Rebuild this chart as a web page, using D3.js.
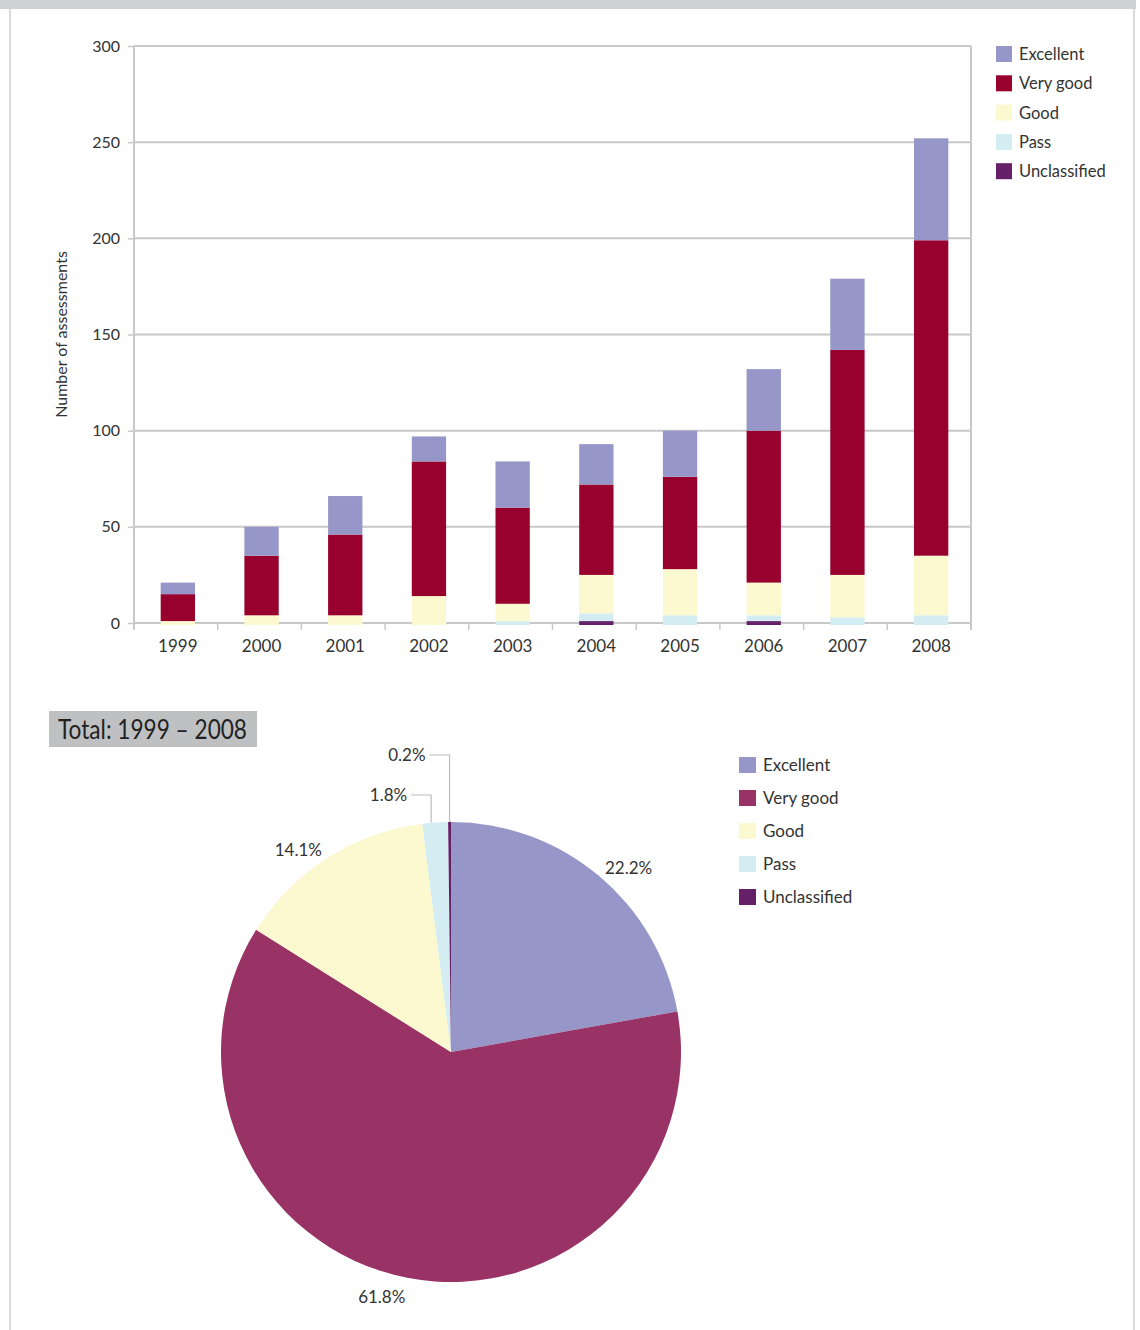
<!DOCTYPE html>
<html>
<head>
<meta charset="utf-8">
<script src="https://cdn.jsdelivr.net/npm/d3@7"></script>
<style>
  html, body { margin: 0; padding: 0; background: #fff; }
  svg { display: block; }
  text { font-family: Lato, "Open Sans", sans-serif; fill: #333; }
</style>
</head>
<body>
<svg id="chart" width="1140" height="1330"></svg>
<script>
// Assessment ratings per year
const years = ["1999", "2000", "2001", "2002", "2003", "2004", "2005", "2006", "2007", "2008"];
const ratings = ["Unclassified", "Pass", "Good", "Very good", "Excellent"];
const unclassified = [0, 0, 0, 0, 0, 1, 0, 1, 0, 0];
const pass         = [0, 0, 0, 0, 1, 4, 4, 3, 3, 4];
const good         = [1, 4, 4, 14, 9, 20, 24, 17, 22, 31];
const veryGood     = [14, 31, 42, 70, 50, 47, 48, 79, 117, 164];
const excellent    = [6, 15, 20, 13, 24, 21, 24, 32, 37, 53];
const yTicks = [0, 50, 100, 150, 200, 250, 300];

// Share of all assessments 1999 – 2008 (percent)
const totalLabels = ["Excellent", "Very good", "Good", "Pass", "Unclassified"];
const totalShares = [22.2, 61.8, 14.1, 1.8, 0.2];

const barColors = {
  "Excellent": "#9696c8",
  "Very good": "#98002e",
  "Good": "#fcf8cf",
  "Pass": "#d3edf3",
  "Unclassified": "#652068"
};
const pieColors = {
  "Excellent": "#9696c8",
  "Very good": "#993366",
  "Good": "#fcf8cf",
  "Pass": "#d3edf3",
  "Unclassified": "#652068"
};
const gridColor = "#c8c8c8";

const svg = d3.select("#chart");

// Page frame: grey band on top, thin side rules
svg.append("rect").attr("x", 0).attr("y", 0).attr("width", 1136).attr("height", 9).attr("fill", "#d0d1d3");
svg.append("line").attr("x1", 10).attr("x2", 10).attr("y1", 9).attr("y2", 1330).attr("stroke", "#cfcfcf").attr("stroke-width", 1.5);
svg.append("line").attr("x1", 1134).attr("x2", 1134).attr("y1", 9).attr("y2", 1330).attr("stroke", "#cfcfcf").attr("stroke-width", 1.5);

// ---------- Stacked bar chart ----------
const plot = { left: 134, right: 971, top: 46, bottom: 623 };

const rows = years.map((yr, i) => ({
  year: yr,
  "Unclassified": unclassified[i],
  "Pass": pass[i],
  "Good": good[i],
  "Very good": veryGood[i],
  "Excellent": excellent[i]
}));

const x = d3.scaleBand().domain(years).range([plot.left, plot.right]).paddingInner(0.59).paddingOuter(0.295);
const y = d3.scaleLinear().domain([0, 300]).range([plot.bottom, plot.top]);

const gBar = svg.append("g");

// horizontal grid
gBar.append("g").selectAll("line").data(yTicks.filter(t => t > 0)).join("line")
  .attr("x1", plot.left).attr("x2", plot.right)
  .attr("y1", d => y(d)).attr("y2", d => y(d))
  .attr("stroke", gridColor).attr("stroke-width", 2);

// y axis
const yAxis = gBar.append("g").attr("transform", `translate(${plot.left},0)`)
  .call(d3.axisLeft(y).tickValues(yTicks).tickSize(6).tickPadding(8));
yAxis.select(".domain").remove();
yAxis.selectAll(".tick line").attr("stroke", gridColor).attr("stroke-width", 1.5);
yAxis.selectAll(".tick text").attr("font-size", 16).style("fill", "#333").style("font-family", "Lato, sans-serif");
gBar.append("line").attr("x1", plot.left).attr("x2", plot.left).attr("y1", plot.top).attr("y2", plot.bottom + 7)
  .attr("stroke", gridColor).attr("stroke-width", 2);
gBar.append("line").attr("x1", plot.right).attr("x2", plot.right).attr("y1", plot.top).attr("y2", plot.bottom + 7)
  .attr("stroke", gridColor).attr("stroke-width", 2);

// x axis baseline and category dividers
gBar.append("line").attr("x1", plot.left).attr("x2", plot.right).attr("y1", y(0)).attr("y2", y(0))
  .attr("stroke", gridColor).attr("stroke-width", 2);
const step = x.step();
gBar.append("g").selectAll("line").data(d3.range(years.length + 1)).join("line")
  .attr("x1", i => plot.left + i * step).attr("x2", i => plot.left + i * step)
  .attr("y1", y(0)).attr("y2", y(0) + 7)
  .attr("stroke", gridColor).attr("stroke-width", 1.5);
gBar.append("g").selectAll("text").data(years).join("text")
  .attr("x", d => x(d) + x.bandwidth() / 2 + 2).attr("y", y(0) + 29)
  .attr("text-anchor", "middle").attr("font-size", 17).text(d => d);

// y axis title
gBar.append("text")
  .attr("transform", `translate(67,${(plot.top + plot.bottom) / 2}) rotate(-90)`)
  .attr("text-anchor", "middle").attr("font-size", 16).text("Number of assessments");

// stacked bars
const stacked = d3.stack().keys(ratings)(rows);
gBar.append("g").selectAll("g").data(stacked).join("g")
  .attr("fill", s => barColors[s.key])
  .selectAll("rect").data(s => s.filter(d => d[1] > d[0])).join("rect")
  .attr("x", d => x(d.data.year) + 2)
  .attr("width", x.bandwidth())
  .attr("y", d => y(d[1]))
  .attr("height", d => y(d[0]) - y(d[1]) + (d[0] === 0 ? 2 : 0));

// bar legend
const barLegend = svg.append("g").attr("transform", "translate(996,54)");
const legendOrder = ["Excellent", "Very good", "Good", "Pass", "Unclassified"];
const bl = barLegend.selectAll("g").data(legendOrder).join("g")
  .attr("transform", (d, i) => `translate(0,${i * 29.3})`);
bl.append("rect").attr("x", 0).attr("y", -8).attr("width", 16).attr("height", 16).attr("fill", d => barColors[d]);
bl.append("text").attr("x", 23).attr("y", 6).attr("font-size", 16.5).text(d => d);

// ---------- Pie of totals ----------
svg.append("rect").attr("x", 49).attr("y", 711).attr("width", 208).attr("height", 36).attr("fill", "#bfc0c2");
svg.append("text").attr("x", 58).attr("y", 739).attr("font-size", 26)
  .attr("textLength", 189).attr("lengthAdjust", "spacingAndGlyphs")
  .style("fill", "#222").text("Total: 1999 – 2008");

const cx = 451, cy = 1052, r = 230;
const pieData = totalLabels.map((k, i) => ({ key: k, value: totalShares[i] }));
const arcs = d3.pie().sort(null).value(d => d.value)(pieData);
const arc = d3.arc().innerRadius(0).outerRadius(r);
const gPie = svg.append("g").attr("transform", `translate(${cx},${cy})`);
gPie.selectAll("path").data(arcs).join("path")
  .attr("d", arc).attr("fill", d => pieColors[d.data.key]);

const fmt = v => v.toFixed(1) + "%";
const mid = d => (d.startAngle + d.endAngle) / 2;

// labels for the larger slices sit just outside the rim
const bigLabels = arcs.filter(d => d.data.value >= 5);
gPie.selectAll("text.big").data(bigLabels).join("text")
  .attr("class", "big")
  .attr("x", d => (r + 10) * Math.sin(mid(d)))
  .attr("y", d => {
    const a = mid(d);
    return -(r + 10) * Math.cos(a) + Math.max(0, -Math.cos(a)) * 10 + 6;
  })
  .attr("text-anchor", d => {
    const s = Math.sin(mid(d));
    return s > 0.1 ? "start" : (s < -0.1 ? "end" : "middle");
  })
  .attr("font-size", 17).text(d => fmt(d.data.value));

// the thin slices at the top get leader lines
const smallLabels = arcs.filter(d => d.data.value < 5);
const leaderRise = [27, 67];
smallLabels.forEach((d, i) => {
  const a = mid(d);
  const px = r * Math.sin(a) - 4 + i * 4;
  const py = -r * Math.cos(a);
  const ly = -r - leaderRise[i];
  const lx = px - 20;
  gPie.append("path")
    .attr("d", `M${px},${py}V${ly}H${lx}`)
    .attr("fill", "none").attr("stroke", "#bdbdbd").attr("stroke-width", 1.2);
  gPie.append("text").attr("x", lx - 4).attr("y", ly + 6)
    .attr("text-anchor", "end").attr("font-size", 17).text(fmt(d.data.value));
});

// pie legend
const pieLegend = svg.append("g").attr("transform", "translate(739,765)");
const pl = pieLegend.selectAll("g").data(totalLabels).join("g")
  .attr("transform", (d, i) => `translate(0,${i * 33})`);
pl.append("rect").attr("x", 0).attr("y", -8).attr("width", 17).attr("height", 16).attr("fill", d => pieColors[d]);
pl.append("text").attr("x", 24).attr("y", 6).attr("font-size", 17).text(d => d);
</script>
</body>
</html>
